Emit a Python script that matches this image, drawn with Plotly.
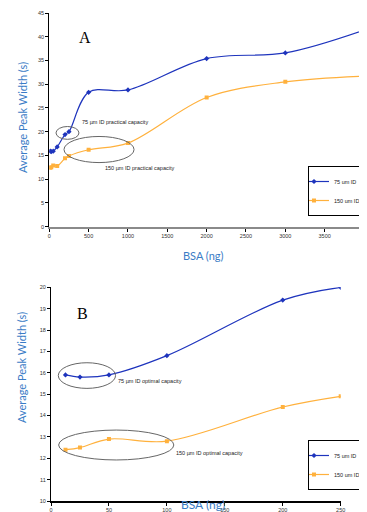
import plotly.graph_objects as go

# ---- Data ----
bsa_a = [12.5, 25, 50, 100, 200, 250, 500, 1000, 2000, 3000, 4000]
width75_a = [15.9, 15.8, 15.9, 16.8, 19.4, 20.0, 28.3, 28.8, 35.4, 36.6, 41.4]
width150_a = [12.4, 12.5, 12.9, 12.8, 14.4, 14.9, 16.2, 17.6, 27.2, 30.5, 31.7]

bsa_b = [12.5, 25, 50, 100, 200, 250]
width75_b = [15.9, 15.8, 15.9, 16.8, 19.4, 20.0]
width150_b = [12.4, 12.5, 12.9, 12.8, 14.4, 14.9]

series_names = ["75 um ID", "150 um ID"]
xticks_a = [0, 500, 1000, 1500, 2000, 2500, 3000, 3500, 4000]
yticks_a = [0, 5, 10, 15, 20, 25, 30, 35, 40, 45]
xticks_b = [0, 50, 100, 150, 200, 250]
yticks_b = [10, 11, 12, 13, 14, 15, 16, 17, 18, 19, 20]

BLUE = "#1e34bd"
ORANGE = "#ffb13d"
TITLE_BLUE = "#3a7cc6"
OFF = 8  # page body margin offset
W, H = 367 - OFF, 512 - OFF

def px_x(p):
    return (p - OFF) / W

def px_y(p):
    return 1 - (p - OFF) / H

fig = go.Figure()

line_kw = dict(shape="spline", smoothing=1.0, width=1.2)

fig.add_trace(go.Scatter(x=bsa_a, y=width75_a, name=series_names[0], mode="lines+markers",
                         line=dict(color=BLUE, **line_kw),
                         marker=dict(symbol="diamond", size=4, color=BLUE),
                         xaxis="x", yaxis="y", legend="legend"))
fig.add_trace(go.Scatter(x=bsa_a, y=width150_a, name=series_names[1], mode="lines+markers",
                         line=dict(color=ORANGE, **line_kw),
                         marker=dict(symbol="square", size=4, color=ORANGE),
                         xaxis="x", yaxis="y", legend="legend"))
fig.add_trace(go.Scatter(x=bsa_b, y=width75_b, name=series_names[0], mode="lines+markers",
                         line=dict(color=BLUE, **line_kw),
                         marker=dict(symbol="diamond", size=4, color=BLUE),
                         xaxis="x2", yaxis="y2", legend="legend2"))
fig.add_trace(go.Scatter(x=bsa_b, y=width150_b, name=series_names[1], mode="lines+markers",
                         line=dict(color=ORANGE, **line_kw),
                         marker=dict(symbol="square", size=4, color=ORANGE),
                         xaxis="x2", yaxis="y2", legend="legend2"))

tickfont = dict(family="Liberation Sans, Arial", size=5.5, color="#333333")
axis_common = dict(showgrid=False, zeroline=False, ticks="outside", ticklen=3,
                   tickwidth=1, tickcolor="#000000", tickfont=tickfont, fixedrange=True,
                   automargin=False)

legend_common = dict(xanchor="right", yanchor="top", bordercolor="#000000", borderwidth=1,
                     bgcolor="white", itemwidth=30, tracegroupgap=0, indentation=-15,
                     font=dict(family="Liberation Sans, Arial", size=5.5, color="#222222"))

fig.update_layout(
    width=W, height=H,
    margin=dict(l=0, r=0, t=0, b=0, autoexpand=False),
    paper_bgcolor="white", plot_bgcolor="white",
    showlegend=True,
    xaxis=dict(domain=[px_x(49.3), px_x(364)], range=[0, 4000], tickvals=xticks_a,
               showline=True, linecolor="#8a8a8a", linewidth=2, anchor="y", **axis_common),
    yaxis=dict(domain=[px_y(226.7), px_y(13)], range=[0, 45], tickvals=yticks_a,
               showline=True, linecolor="#000000", linewidth=1.2, anchor="x", **axis_common),
    xaxis2=dict(domain=[px_x(51), px_x(340.7)], range=[0, 250], tickvals=xticks_b,
                showline=True, linecolor="#000000", linewidth=1.5, anchor="y2", **axis_common),
    yaxis2=dict(domain=[px_y(501), px_y(287.3)], range=[10, 20], tickvals=yticks_b,
                showline=True, linecolor="#000000", linewidth=1.2, anchor="x2", **axis_common),
    legend=dict(x=px_x(366), y=px_y(166), **legend_common),
    legend2=dict(x=px_x(366), y=px_y(440), **legend_common),
)

ell_style = dict(type="circle", line=dict(color="#666666", width=1), fillcolor="rgba(0,0,0,0)")
# Chart A ellipses
fig.add_shape(xref="x", yref="y", x0=85, x1=377, y0=18.4, y1=21.1, **ell_style)
fig.add_shape(xref="x", yref="y", x0=187, x1=1077, y0=13.5, y1=19.0, **ell_style)
# Chart B ellipses
fig.add_shape(xref="x2", yref="y2", x0=6.3, x1=55.7, y0=15.27, y1=16.47, **ell_style)
fig.add_shape(xref="x2", yref="y2", x0=6.6, x1=106, y0=11.92, y1=13.32, **ell_style)

note_font = dict(family="Liberation Sans, Arial", size=5.5, color="#222222")
fig.add_annotation(xref="x", yref="y", x=390, y=22.1, text="75 µm ID practical capacity",
                   showarrow=False, xanchor="left", yanchor="middle", font=note_font)
fig.add_annotation(xref="x", yref="y", x=683, y=12.3, text="150 µm ID practical capacity",
                   showarrow=False, xanchor="left", yanchor="middle", font=note_font)
fig.add_annotation(xref="x2", yref="y2", x=56.5, y=15.62, text="75 µm ID optimal capacity",
                   showarrow=False, xanchor="left", yanchor="middle", font=note_font)
fig.add_annotation(xref="x2", yref="y2", x=105.8, y=12.23, text="150 µm ID optimal capacity",
                   showarrow=False, xanchor="left", yanchor="middle", font=note_font)

# Panel letters
letter_font = dict(family="Liberation Serif, Times New Roman", size=16, color="#000000")
fig.add_annotation(xref="paper", yref="paper", x=px_x(84.5), y=px_y(37), text="A",
                   showarrow=False, xanchor="center", yanchor="middle", font=letter_font)
fig.add_annotation(xref="paper", yref="paper", x=px_x(82), y=px_y(313), text="B",
                   showarrow=False, xanchor="center", yanchor="middle", font=letter_font)

# Axis titles
title_font = dict(family="Lato, Open Sans", size=11, color=TITLE_BLUE)
fig.add_annotation(xref="paper", yref="paper", x=px_x(203), y=px_y(255), text="BSA (ng)",
                   showarrow=False, xanchor="center", yanchor="middle", font=title_font)
fig.add_annotation(xref="paper", yref="paper", x=px_x(203), y=px_y(504), text="BSA (ng)",
                   showarrow=False, xanchor="center", yanchor="middle",
                   font=dict(family="Lato, Open Sans", size=12, color=TITLE_BLUE))
fig.add_annotation(xref="paper", yref="paper", x=px_x(22), y=px_y(118),
                   text="Average Peak Width (s)", textangle=-90,
                   showarrow=False, xanchor="center", yanchor="middle", font=title_font)
fig.add_annotation(xref="paper", yref="paper", x=px_x(21), y=px_y(368),
                   text="Average Peak Width (s)", textangle=-90,
                   showarrow=False, xanchor="center", yanchor="middle", font=title_font)

fig.write_html("out.html")
